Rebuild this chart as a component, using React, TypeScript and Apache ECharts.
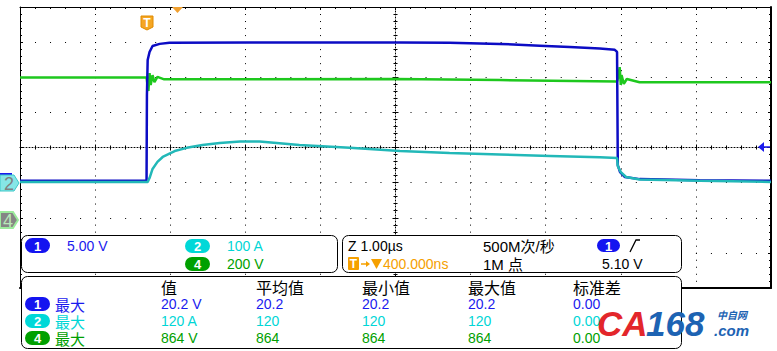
import React, { useEffect, useRef } from "react";
import * as echarts from "echarts";

// Traces, in screen divisions: [x: 0..10 horizontal divisions, y: -4..4 vertical divisions]
const ch1Trace: [number, number][] = [
  [0, -0.95], [1.685, -0.95], [1.69, 1.49], [1.7, 2.49], [1.725, 2.72], [1.765, 2.89],
  [1.86, 2.95], [1.99, 2.98], [3.06, 2.99], [5.06, 2.99], [5.72, 2.98], [6.39, 2.95],
  [6.92, 2.9], [7.32, 2.86], [7.72, 2.82], [7.92, 2.78], [7.95, 2.72], [7.96, -0.5],
  [7.99, -0.7], [8.055, -0.84], [8.25, -0.9], [9.05, -0.93], [10, -0.95],
];
const ch4Trace: [number, number][] = [
  [0, 1.99], [1.685, 1.99], [1.7, 1.75], [1.71, 1.61], [1.725, 2.12], [1.74, 1.78],
  [1.765, 2.06], [1.79, 1.86], [1.83, 2.01], [1.92, 1.94], [5.0, 1.95], [6.39, 1.92],
  [7.95, 1.88], [7.97, 2.04], [7.985, 2.29], [8.0, 1.78], [8.01, 2.06], [8.04, 1.81],
  [8.08, 1.95], [8.25, 1.86], [10, 1.86],
];
const ch2Trace: [number, number][] = [
  [0, -0.98], [1.7, -0.98], [1.725, -0.87], [1.765, -0.61], [1.83, -0.41], [1.9, -0.27],
  [2.06, -0.1], [2.22, -0.01], [2.43, 0.07], [2.66, 0.13], [2.93, 0.17], [3.19, 0.17],
  [3.72, 0.07], [4.39, -0.01], [5.06, -0.1], [5.72, -0.16], [6.39, -0.2], [7.06, -0.24],
  [7.72, -0.28], [7.95, -0.3], [7.96, -0.53], [8.0, -0.7], [8.07, -0.84], [8.25, -0.91],
  [9.05, -0.95], [10, -0.98],
];

// Readouts
const scaleLabels = ["5.00 V", "100 A", "200 V"];
const timebase = "Z 1.00µs";
const sampleRate = "500M次/秒";
const delayText = "400.000ns";
const recordLen = "1M 点";
const trigLevel = "5.10 V";
const measHeaders = ["值", "平均值", "最小值", "最大值", "标准差"];
const measName = "最大";
const ch1Meas = ["20.2 V", "20.2", "20.2", "20.2", "0.00"];
const ch2Meas = ["120 A", "120", "120", "120", "0.00"];
const ch4Meas = ["864 V", "864", "864", "864", "0.00"];

const FONT = "'Liberation Sans','Noto Sans CJK SC',sans-serif";
const CJK = "'Noto Sans CJK SC','Liberation Sans',sans-serif";
const C1 = "#1a1aee";
const C2 = "#00d6d6";
const C4 = "#00a000";
const ORANGE = "#f5a000";

const txt = (text: string, x: number, y: number, fill: string, size = 14, extra: any = {}) => ({
  type: "text",
  x,
  y,
  z: 120,
  style: {
    text,
    fill,
    fontSize: size,
    lineHeight: size,
    fontFamily: FONT,
    verticalAlign: "middle",
    textVerticalAlign: "middle",
    ...extra,
  },
});

const pill = (label: string, x: number, y: number, w: number, h: number, fill: string) => [
  { type: "rect", z: 115, shape: { x, y, width: w, height: h, r: h / 2 }, style: { fill } },
  txt(label, x + w / 2, y + h / 2 + 0.5, "#fff", 13, { fontWeight: "bold", align: "center", textAlign: "center" }),
];

const panel = (x: number, y: number, w: number, h: number) => ({
  type: "rect",
  z: 110,
  shape: { x, y, width: w, height: h, r: 6 },
  style: { fill: "#fff", stroke: "#000", lineWidth: 1 },
});

const valueAxis = (extra: any) => ({
  type: "value",
  min: 0,
  max: 10,
  interval: 1,
  axisLabel: { show: false },
  splitLine: { show: false },
  axisTick: { show: false },
  ...extra,
});
const vAxis = (extra: any) => ({
  type: "value",
  min: -4,
  max: 4,
  interval: 1,
  axisLabel: { show: false },
  splitLine: { show: false },
  axisTick: { show: false },
  ...extra,
});

export default function App() {
  const ref = useRef<HTMLDivElement>(null);
  useEffect(() => {
    if (!ref.current) return;
    const chart = echarts.init(ref.current, undefined, { renderer: "svg" });
    const black = { color: "#000" };
    const colX = [161, 256, 362, 468, 573];
    const rowY = [304, 321, 338];
    const rows = [
      { n: "1", c: C1, p: "#1414f0", v: ch1Meas },
      { n: "2", c: C2, p: "#00d8d8", v: ch2Meas },
      { n: "4", c: C4, p: C4, v: ch4Meas },
    ];
    const graphics: any[] = [
      // channel markers on the left
      { type: "rect", z: 100, shape: { x: 0, y: 173, width: 12, height: 2 }, style: { fill: C1 } },
      { type: "polygon", z: 101, shape: { points: [[0, 175], [14, 175], [19, 183], [14, 191], [0, 191]] }, style: { fill: "#86e6e6", stroke: "#3cc8c8", lineWidth: 1 } },
      txt("2", 9, 183.5, "#808080", 18, { align: "center", textAlign: "center" }),
      { type: "polygon", z: 101, shape: { points: [[0, 212], [13, 212], [18, 220], [13, 228], [0, 228]] }, style: { fill: "#858585", stroke: "#9ceb9c", lineWidth: 2 } },
      txt("4", 8, 220.5, "#b8e8b8", 18, { align: "center", textAlign: "center" }),
      // trigger markers
      { type: "polygon", z: 101, shape: { points: [[141, 16], [153, 16], [153, 27], [147, 30], [141, 27]] }, style: { fill: "#f5a623", stroke: "#e08a00", lineWidth: 1 } },
      txt("T", 147, 22.5, "#fff", 12, { fontWeight: "bold", align: "center", textAlign: "center" }),
      { type: "polygon", z: 101, shape: { points: [[172, 7], [183, 7], [177.5, 13]] }, style: { fill: "#f0a030" } },
      { type: "polygon", z: 101, shape: { points: [[758, 147], [764, 142], [764, 152]] }, style: { fill: C1 } },
      { type: "line", z: 101, shape: { x1: 764, y1: 147, x2: 770, y2: 147 }, style: { stroke: C1, lineWidth: 1.5 } },
      // panels
      panel(21.5, 235.5, 316, 37),
      panel(342.5, 235.5, 339, 37),
      panel(21.5, 276.5, 660, 72),
      // panel 1
      ...pill("1", 25, 238, 25, 15, "#1414f0"),
      txt(scaleLabels[0], 67, 246, C1),
      ...pill("2", 185, 239, 25, 14, "#00d8d8"),
      txt(scaleLabels[1], 227, 246, C2),
      ...pill("4", 185, 257, 25, 14, C4),
      txt(scaleLabels[2], 227, 264, C4),
      // panel 2
      txt(timebase, 348, 246, "#000"),
      txt(sampleRate, 483, 246, "#000", 15),
      ...pill("1", 597, 239, 23, 13, "#1414f0"),
      { type: "polyline", z: 120, shape: { points: [[630, 252], [636, 240], [640, 240]] }, style: { stroke: "#000", lineWidth: 1.3, fill: null } },
      { type: "rect", z: 120, shape: { x: 348, y: 257, width: 11, height: 13, r: 1 }, style: { fill: ORANGE } },
      txt("T", 353.5, 264, "#fff", 12, { fontWeight: "bold", align: "center", textAlign: "center" }),
      { type: "line", z: 120, shape: { x1: 361, y1: 264, x2: 367, y2: 264 }, style: { stroke: ORANGE, lineWidth: 1.5 } },
      { type: "polygon", z: 120, shape: { points: [[366, 261], [370, 264], [366, 267]] }, style: { fill: ORANGE } },
      { type: "polygon", z: 120, shape: { points: [[371, 259], [382, 259], [376.5, 269]] }, style: { fill: ORANGE } },
      txt(delayText, 383, 264, ORANGE),
      txt(recordLen, 483, 264, "#000", 15),
      txt(trigLevel, 602, 264, "#000"),
    ];
    measHeaders.forEach((h, i) => graphics.push(txt(h, colX[i], 286.5, "#000", 16, { fontFamily: CJK })));
    rows.forEach((r, ri) => {
      graphics.push(...pill(r.n, 25, rowY[ri] - 7, 25, 14, r.p));
      graphics.push(txt(measName, 55, rowY[ri], r.c, 15, { fontFamily: CJK }));
      r.v.forEach((v, ci) => graphics.push(txt(v, colX[ci], rowY[ri], r.c)));
    });
    // watermark
    graphics.push(txt("CA", 597, 323, "#e3262b", 35, { fontWeight: "bold", fontStyle: "italic" }));
    graphics.push(txt("168", 646, 323, "#1d63b3", 35, { fontWeight: "bold", fontStyle: "italic" }));
    graphics.push(txt("中自网", 717, 314, "#1d63b3", 10, { fontFamily: CJK, fontWeight: "bold", fontStyle: "italic" }));
    graphics.push(txt(".com", 714, 330, "#1d63b3", 15, { fontWeight: "bold", fontStyle: "italic" }));

    chart.setOption({
      animation: false,
      backgroundColor: "#fff",
      grid: { left: 20, top: 7, width: 751, height: 281, containLabel: false },
      xAxis: [
        valueAxis({ position: "bottom", axisLine: { show: true, onZero: false, lineStyle: { color: "#000", width: 2 } }, splitLine: { show: true, lineStyle: { color: "#000", width: 1, type: [1, 6.02] } } }),
        valueAxis({ position: "top", axisLine: { show: true, onZero: false, lineStyle: { color: "#000", width: 1 } }, axisTick: { show: true, inside: true, length: 3, lineStyle: black }, minorTick: { show: true, splitNumber: 5, length: 2, lineStyle: black } }),
        valueAxis({ position: "bottom", offset: -140.5, axisLine: { show: true, onZero: false, lineStyle: { color: "#000", width: 1, type: [1, 2] } }, axisTick: { show: true, inside: false, length: 3, lineStyle: black }, minorTick: { show: true, splitNumber: 5, length: 2, lineStyle: black } }),
        valueAxis({ position: "bottom", offset: -140.5, axisLine: { show: false, onZero: false }, axisTick: { show: true, inside: true, length: 3, lineStyle: black }, minorTick: { show: true, splitNumber: 5, length: 2, lineStyle: black } }),
      ],
      yAxis: [
        vAxis({ position: "left", axisLine: { show: true, onZero: false, lineStyle: { color: "#000", width: 1 } }, axisTick: { show: true, inside: true, length: 3, lineStyle: black }, minorTick: { show: true, splitNumber: 5, length: 2, lineStyle: black }, splitLine: { show: true, lineStyle: { color: "#000", width: 1, type: [1, 14.02] } } }),
        vAxis({ position: "right", axisLine: { show: true, onZero: false, lineStyle: { color: "#000", width: 2 } }, axisTick: { show: true, inside: true, length: 3, lineStyle: black }, minorTick: { show: true, splitNumber: 5, length: 2, lineStyle: black } }),
        vAxis({ position: "left", offset: -375.5, axisLine: { show: true, onZero: false, lineStyle: { color: "#000", width: 1, type: [1, 2] } }, axisTick: { show: true, inside: false, length: 3, lineStyle: black }, minorTick: { show: true, splitNumber: 5, length: 2, lineStyle: black } }),
        vAxis({ position: "left", offset: -375.5, axisLine: { show: false, onZero: false }, axisTick: { show: true, inside: true, length: 3, lineStyle: black }, minorTick: { show: true, splitNumber: 5, length: 2, lineStyle: black } }),
      ],
      series: [
        { type: "line", name: "CH4", xAxisIndex: 0, yAxisIndex: 0, data: ch4Trace, showSymbol: false, symbol: "none", lineStyle: { color: "#1ec81e", width: 2.5 }, z: 3 },
        { type: "line", name: "CH1", xAxisIndex: 0, yAxisIndex: 0, data: ch1Trace, showSymbol: false, symbol: "none", lineStyle: { color: "#0c0cc4", width: 2.5 }, z: 4 },
        { type: "line", name: "CH2", xAxisIndex: 0, yAxisIndex: 0, data: ch2Trace, showSymbol: false, symbol: "none", lineStyle: { color: "#22b8b8", width: 2.5 }, z: 5 },
      ],
      graphic: graphics,
    });
    return () => chart.dispose();
  }, []);
  return <div ref={ref} style={{ position: "absolute", left: 0, top: 0, width: 777, height: 351 }} />;
}
